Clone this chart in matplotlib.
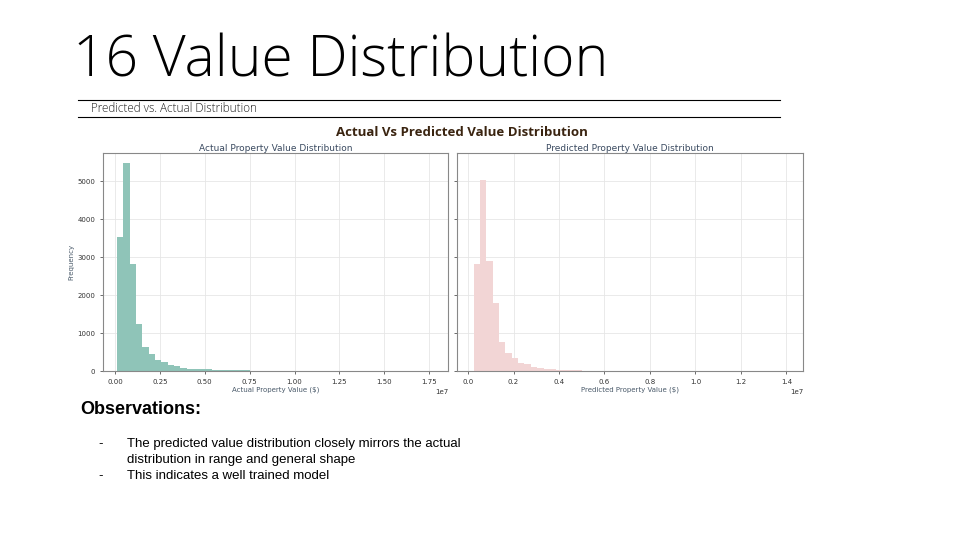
import numpy as np
import matplotlib.pyplot as plt

# histogram counts (50 bins each)
actual_counts = [3530, 5470, 2820, 1250, 640, 440, 280, 230, 160, 120,
                 80, 60, 55, 50, 45, 35, 30, 25, 20, 20,
                 15, 12, 10, 10, 8, 8, 6, 6, 5, 5,
                 5, 4, 4, 4, 3, 3, 3, 3, 2, 2,
                 2, 2, 2, 2, 2, 1, 1, 1, 1, 1]
actual_range = (0.01e7, 1.78e7)
pred_counts = [2820, 5035, 2890, 1780, 770, 480, 330, 220, 180, 110,
               90, 60, 50, 35, 25, 20, 15, 12, 10, 8,
               6, 5, 5, 4, 4, 3, 3, 3, 2, 2,
               2, 2, 2, 1, 1, 1, 1, 1, 1, 1,
               1, 1, 1, 1, 1, 1, 1, 1, 1, 1]
pred_range = (0.025e7, 1.42e7)
actual_ticks = [0, 0.25e7, 0.5e7, 0.75e7, 1.0e7, 1.25e7, 1.5e7, 1.75e7]
pred_ticks = [0, 0.2e7, 0.4e7, 0.6e7, 0.8e7, 1.0e7, 1.2e7, 1.4e7]
y_ticks = [0, 1000, 2000, 3000, 4000, 5000]

fig = plt.figure(figsize=(9.6, 5.4), dpi=100)
fig.patch.set_facecolor('white')

# slide header
fig.text(73 / 960, 1 - 62 / 540, '16 Value Distribution', fontsize=41,
         family='Open Sans', fontweight='light', va='center', ha='left', color='black')
fig.add_artist(plt.Line2D([78 / 960, 780 / 960], [1 - 100 / 540] * 2, color='black', lw=0.8))
fig.add_artist(plt.Line2D([78 / 960, 780 / 960], [1 - 117 / 540] * 2, color='black', lw=0.8))
fig.text(91 / 960, 1 - 109 / 540, 'Predicted vs. Actual Distribution', fontsize=8.5,
         family='Open Sans', fontweight='light', va='center', ha='left', color='#222222')

fig.text(462 / 960, 1 - 133 / 540, 'Actual Vs Predicted Value Distribution', fontsize=9.5,
         family='Open Sans', fontweight='bold', color='#3a2410', ha='center', va='center')


def draw(rect, counts, rng, ticks, color, title, xlabel, xlim, show_y):
    ax = fig.add_axes(rect)
    edges = np.linspace(rng[0], rng[1], len(counts) + 1)
    ax.bar(edges[:-1], counts, width=np.diff(edges), align='edge', color=color, lw=0)
    ax.set_xlim(*xlim)
    ax.set_ylim(0, 5740)
    ax.set_xticks(ticks)
    ax.set_yticks(y_ticks)
    ax.grid(True, color='#e6e6e6', lw=0.6)
    ax.set_axisbelow(True)
    ax.tick_params(labelsize=5, length=2, width=0.5, colors='#333333')
    ax.xaxis.get_offset_text().set_fontsize(5)
    if not show_y:
        ax.tick_params(labelleft=False)
    else:
        ax.set_ylabel('Frequency', fontsize=5, color='#4a5a6a', labelpad=2)
    ax.set_xlabel(xlabel, fontsize=5, color='#4a5a6a', labelpad=1)
    ax.set_title(title, fontsize=6.5, color='#3a4a60', pad=1.5)
    for s in ax.spines.values():
        s.set_color('#888888')
        s.set_linewidth(0.8)


draw([103 / 960, 169 / 540, 345 / 960, 218 / 540], actual_counts, actual_range,
     actual_ticks, '#8fc4b8', 'Actual Property Value Distribution',
     'Actual Property Value ($)', (-0.067e7, 1.855e7), True)
draw([457 / 960, 169 / 540, 346 / 960, 218 / 540], pred_counts, pred_range,
     pred_ticks, '#f2d5d5', 'Predicted Property Value Distribution',
     'Predicted Property Value ($)', (-0.0485e7, 1.473e7), False)

# observations
fig.text(80 / 960, 1 - 409 / 540, 'Observations:', fontsize=13, fontweight='bold',
         family='Liberation Sans', va='center', ha='left')
bullets = [('-', 'The predicted value distribution closely mirrors the actual', 444),
           ('', 'distribution in range and general shape', 460),
           ('-', 'This indicates a well trained model', 476)]
for dash, txt, y in bullets:
    if dash:
        fig.text(98 / 960, 1 - y / 540, dash, fontsize=9.5, family='Liberation Sans', va='center')
    fig.text(127 / 960, 1 - y / 540, txt, fontsize=9.5, family='Liberation Sans', va='center')

fig.savefig('out.png', dpi=100)
